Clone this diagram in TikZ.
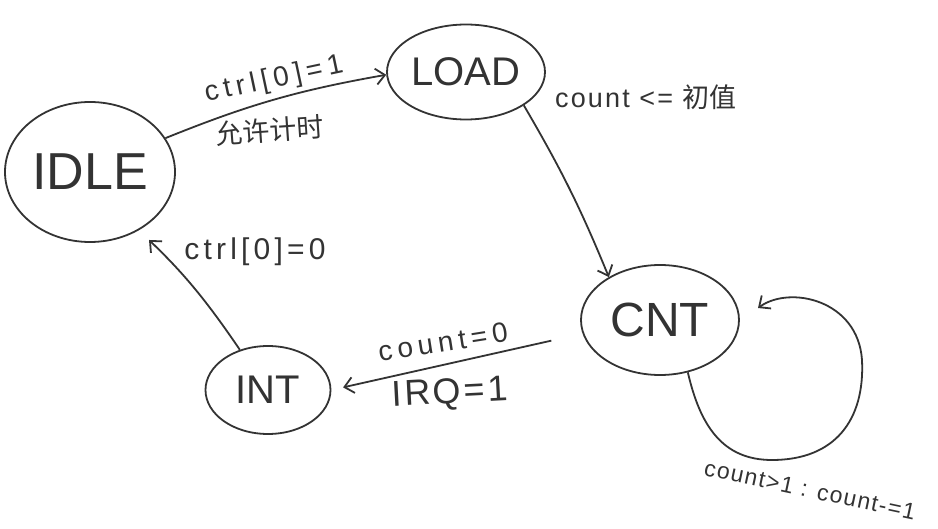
\documentclass[tikz,border=0pt]{standalone}
\usepackage{fontspec}
\setmainfont{Liberation Sans}
\newfontfamily\cjk{Noto Sans CJK SC}
\usetikzlibrary{arrows.meta,shapes.geometric}
\definecolor{ink}{HTML}{333333}
\tikzset{
  stbox/.style={draw=ink, line width=1.8pt, ellipse, inner sep=0pt, text=ink},
  conn/.style={draw=ink, line width=1.8pt, -{Straight Barb[length=9pt,width=16pt,line width=1.8pt]}},
  lbl/.style={text=ink, inner sep=1pt},
}
\newcommand{\fsz}[3]{\fontsize{#1}{#2}\selectfont\addfontfeatures{LetterSpace=#3}}
\begin{document}
\begin{tikzpicture}[x=1pt,y=-1pt]
\useasboundingbox (0,0) rectangle (938,529);
\fill[white] (0,0) rectangle (938,529);
% states
\node[stbox, minimum width=170pt, minimum height=140pt, font=\fontsize{52}{56}\selectfont] (idle) at (90,172) {IDLE};
\node[stbox, minimum width=158pt, minimum height=95pt, font=\fontsize{40}{44}\selectfont] (load) at (466,72) {LOAD};
\node[stbox, minimum width=158pt, minimum height=110pt, font=\fontsize{48}{52}\selectfont] (cnt) at (660,320) {CNT};
\node[stbox, minimum width=125pt, minimum height=88pt, font=\fontsize{40}{44}\selectfont] (int) at (268,390) {INT};
% loop waypoints
\coordinate (lp1) at (772,460);
\coordinate (lp2) at (862,360);
% connectors
\draw[conn] (idle) to[bend left=6] (load.182);
\draw[conn] (load.-30) to[bend left=4] (cnt.140);
\draw[conn, shorten <=32pt, shorten >=12pt] (cnt.190) -- (int.east);
\draw[conn, shorten >=14pt] (int.125) to[bend right=6] (idle.-50);
\draw[conn] (cnt.-62) .. controls (700,425) and (722,460) .. (lp1)
   .. controls (835,460) and (865,420) .. (lp2)
   .. controls (858,300) and (790,285) .. (758,308);
% labels
\node[lbl, rotate=12, font=\fsz{28}{32}{18}] (l1) at (274,80) {ctrl[0]=1};
\node[lbl, rotate=4, font=\cjk\fontsize{27}{30}\selectfont] (l2) at (270,130) {允许计时};
\node[lbl, font=\fsz{27}{30}{8}] (l3) at (646,97) {count <= {\cjk 初值}};
\node[lbl, font=\fsz{30}{34}{14}] (l4) at (255,252) {ctrl[0]=0};
\node[lbl, rotate=9, font=\fsz{28}{32}{18}] (l5) at (443,342) {count=0};
\node[lbl, rotate=3, font=\fsz{36}{40}{8}] (l6) at (450,394) {IRQ=1};
\node[lbl, rotate=-12, font=\fsz{23}{26}{6}] (l7) at (810,490) {count>1 : count-=1};
\end{tikzpicture}
\end{document}
